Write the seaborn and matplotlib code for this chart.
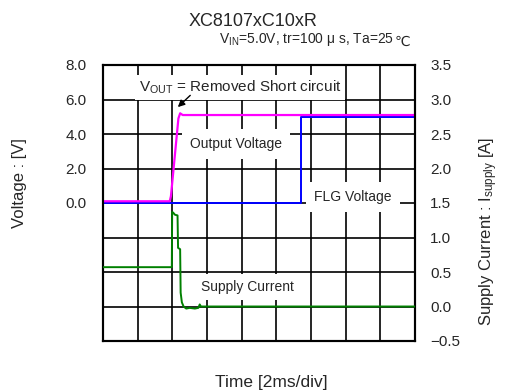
import matplotlib
matplotlib.use("Agg")
import matplotlib.pyplot as plt
import pandas as pd
import seaborn as sns

# time in ms (2 ms / div)
out_t = [0, 3.85, 3.92, 4.35, 4.45, 4.6, 18]
out_v = [0.1, 0.1, 0.4, 4.9, 5.2, 5.1, 5.1]

flg_t = [0, 11.43, 11.43, 18]
flg_v = [0.0, 0.0, 5.0, 5.0]

cur_t = [0, 3.97, 3.99, 4.05, 4.15, 4.3, 4.33, 4.45, 4.48, 4.55, 4.65,
         4.8, 5.0, 5.3, 5.5, 5.58, 5.65, 18]
cur_i = [0.57, 0.57, 1.37, 1.36, 1.33, 1.32, 0.85, 0.83, 0.2, 0.06, 0.0,
         -0.03, -0.02, -0.03, -0.02, 0.03, 0.0, 0.0]

v_ticks = [-8, -6, -4, -2, 0, 2, 4, 6, 8]
v_labels = ["", "", "", "", "0.0", "2.0", "4.0", "6.0", "8.0"]
i_ticks = [-0.5, 0.0, 0.5, 1.0, 1.5, 2.0, 2.5, 3.0, 3.5]
i_labels = ["\u22120.5", "0.0", "0.5", "1.0", "1.5", "2.0", "2.5", "3.0", "3.5"]
t_ticks = [0, 2, 4, 6, 8, 10, 12, 14, 16, 18]

sns.set_style("white")
plt.rcParams["font.family"] = ["Liberation Sans", "DejaVu Sans", "Noto Sans CJK JP"]
plt.rcParams["mathtext.default"] = "regular"

fig = plt.figure(figsize=(5.05, 3.91), dpi=100)
ax = fig.add_axes([103 / 505, 50 / 391, 312 / 505, 276 / 391])
ax2 = ax.twinx()

out_df = pd.DataFrame({"t": out_t, "v": out_v})
flg_df = pd.DataFrame({"t": flg_t, "v": flg_v})
cur_df = pd.DataFrame({"t": cur_t, "i": cur_i})

sns.lineplot(data=flg_df, x="t", y="v", ax=ax, color="#0000ff", lw=1.4,
             sort=False, estimator=None, zorder=3)
sns.lineplot(data=out_df, x="t", y="v", ax=ax, color="#ff00ff", lw=1.6,
             sort=False, estimator=None, zorder=4)
sns.lineplot(data=cur_df, x="t", y="i", ax=ax2, color="#008000", lw=1.4,
             sort=False, estimator=None, zorder=4)

ax.set_xlim(0, 18)
ax.set_ylim(-8, 8)
ax2.set_ylim(-0.5, 3.5)
ax.set_xticks(t_ticks)
ax.set_xticklabels([])
ax.set_yticks(v_ticks)
ax.set_yticklabels(v_labels, fontsize=11)
ax2.set_yticks(i_ticks)
ax2.set_yticklabels(i_labels, fontsize=11)
ax.tick_params(length=0, pad=12)
ax2.tick_params(length=0, pad=11)
ax.grid(True, color="black", lw=1.2)
ax.set_axisbelow(True)
ax.set_xlabel("")
ax.set_ylabel("")
ax2.set_ylabel("")
for a in (ax, ax2):
    for s in a.spines.values():
        s.set_color("black")
        s.set_linewidth(1.5)

# labels sit on white boxes that cut the grid
box = dict(facecolor="white", edgecolor="none", pad=3)
ax.text(7.9, 6.7, "$V_{OUT}$ = Removed Short circuit", ha="center", va="center",
        fontsize=11, bbox=box, zorder=5)
ax.annotate("", xy=(4.2, 5.45), xytext=(5.15, 6.35),
            arrowprops=dict(arrowstyle="-|>", color="black", lw=1.0,
                            mutation_scale=10), zorder=6)
ax.text(7.67, 3.42, "Output Voltage", ha="center", va="center",
        fontsize=10, bbox=dict(facecolor="white", edgecolor="none", pad=6), zorder=5)
ax.text(14.43, 0.35, "FLG Voltage", ha="center", va="center",
        fontsize=10, bbox=dict(facecolor="white", edgecolor="none", pad=6), zorder=5)
ax.text(8.31, -4.87, "Supply Current", ha="center", va="center",
        fontsize=10, bbox=dict(facecolor="white", edgecolor="none", pad=4), zorder=5)

fig.text(253 / 505, 1 - 21 / 391, "XC8107xC10xR", ha="center", va="center", fontsize=13)
sub = fig.text(219 / 505, 1 - 40 / 391, "$V_{IN}$=5.0V, tr=100 \u03bc s, Ta=25",
               ha="left", va="center", fontsize=10)
# mathtext has no fallback for the degree-Celsius sign, so draw it on its own
ax.annotate("\u2103", xy=(1, 0), xycoords=sub, xytext=(0.3, -0.6),
            textcoords="offset points", ha="left", va="bottom", fontsize=10,
            family=["DejaVu Sans", "Noto Sans CJK JP"], annotation_clip=False)
fig.text(20 / 505, 1 - 183 / 391, "Voltage : [V]", rotation=90, ha="center",
         va="center", fontsize=12)
fig.text(489 / 505, 1 - 231 / 391, "Supply Current : $I_{supply}$ [A]", rotation=90,
         ha="center", va="center", fontsize=12)
fig.text(271 / 505, 1 - 383 / 391, "Time [2ms/div]", ha="center", va="center",
         fontsize=12.5)

fig.savefig("out.png", dpi=100)
